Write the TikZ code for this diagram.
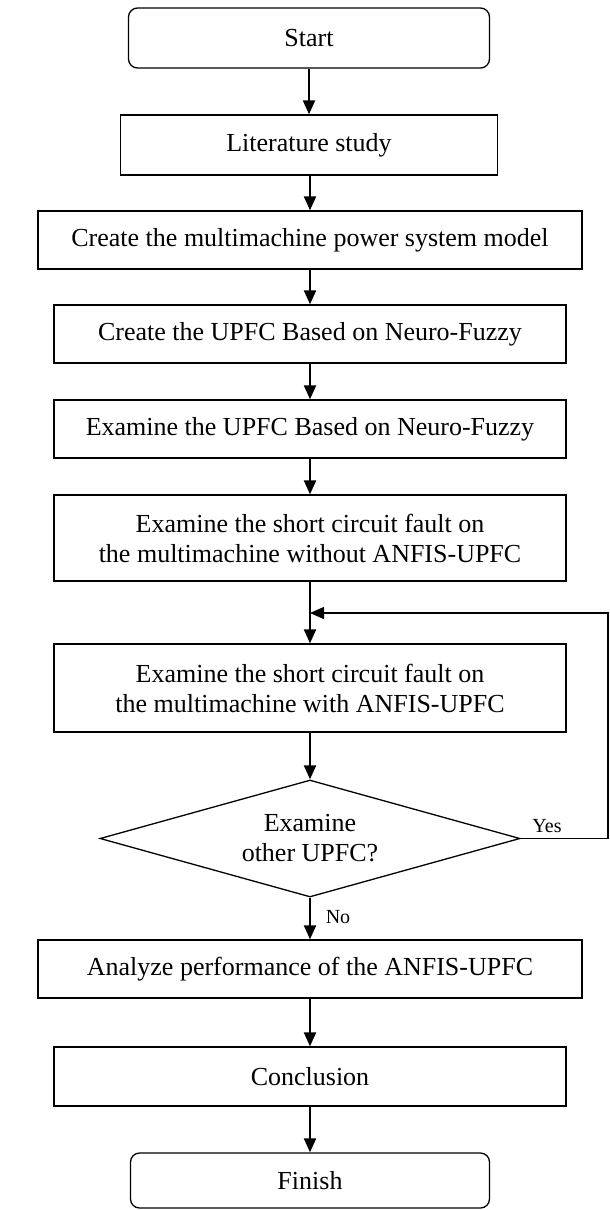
\documentclass[tikz,border=0pt]{standalone}
\usepackage{fontspec}
\setmainfont{Liberation Serif}
\usetikzlibrary{shapes.geometric,arrows.meta}
\begin{document}
\begin{tikzpicture}[x=1pt,y=-1pt,
  box/.style={draw,line width=1.3pt,align=center,inner sep=0pt,font=\fontsize{26}{30}\selectfont},
  term/.style={box,rounded corners=9pt},
  dec/.style={diamond,draw,line width=1.3pt,align=center,inner sep=0pt,aspect=3.6,font=\fontsize{26}{30}\selectfont},
  arr/.style={line width=2pt,-{Triangle[length=14pt,width=12pt]}},
  loopline/.style={line width=1.4pt,-{Triangle[length=14pt,width=12pt]}},
  lbl/.style={font=\fontsize{20}{24}\selectfont,inner sep=0pt}
]
\fill[white] (0,0) rectangle (610,1210);
\useasboundingbox (0,0) rectangle (610,1210);
\node[term,minimum width=361pt,minimum height=60pt] (start) at (309,38) {Start};
\node[box,minimum width=377pt,minimum height=60pt] (lit) at (309,145) {Literature study};
\node[box,minimum width=544pt,minimum height=58pt] (b3) at (310,240) {Create the multimachine power system model};
\node[box,minimum width=512pt,minimum height=58pt] (b4) at (310,334) {Create the UPFC Based on Neuro-Fuzzy};
\node[box,minimum width=512pt,minimum height=58pt] (b5) at (310,429) {Examine the UPFC Based on Neuro-Fuzzy};
\node[box,minimum width=512pt,minimum height=86pt] (b6) at (310,538) {Examine the short circuit fault on\\the multimachine without ANFIS-UPFC};
\node[box,minimum width=512pt,minimum height=88pt] (b7) at (310,688) {Examine the short circuit fault on\\the multimachine with ANFIS-UPFC};
\node[dec,minimum width=420pt,minimum height=117pt] (dec) at (310,838.5) {Examine\\other UPFC?};
\node[box,minimum width=544pt,minimum height=58pt] (b8) at (310,969) {Analyze performance of the ANFIS-UPFC};
\node[box,minimum width=512pt,minimum height=59pt] (b9) at (310,1076.5) {Conclusion};
\node[term,minimum width=359pt,minimum height=55pt] (finish) at (310,1180.5) {Finish};
\coordinate (join) at (310,613);
\coordinate (corner) at (608,613);
\draw[arr] (start) -- (start|-lit.north);
\draw[arr] (lit.south-|b3) -- (b3);
\draw[arr] (b3) -- (b4);
\draw[arr] (b4) -- (b5);
\draw[arr] (b5) -- (b6);
\draw[arr] (b6) -- (b7);
\draw[arr] (b7) -- (dec);
\draw[loopline] (dec.east) -| (corner) -- (join);
\draw[arr] (dec) -- (b8);
\draw[arr] (b8) -- (b9);
\draw[arr] (b9) -- (finish);
\node[lbl] (yes) at (547,826) {Yes};
\node[lbl] (no) at (338,917) {No};
\end{tikzpicture}
\end{document}
